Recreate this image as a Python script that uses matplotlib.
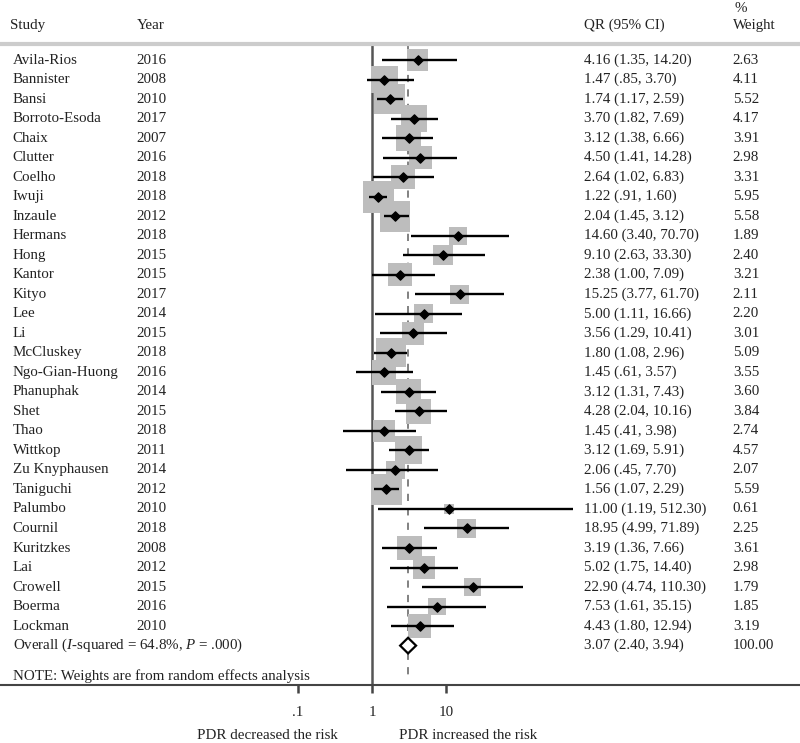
import numpy as np
import matplotlib
matplotlib.use("Agg")
import matplotlib.pyplot as plt
from matplotlib.patches import Polygon

# ==========================
# Data
# ==========================

studies = ["Avila-Rios", "Bannister", "Bansi", "Borroto-Esoda", "Chaix", "Clutter",
           "Coelho", "Iwuji", "Inzaule", "Hermans", "Hong", "Kantor", "Kityo", "Lee",
           "Li", "McCluskey", "Ngo-Gian-Huong", "Phanuphak", "Shet", "Thao", "Wittkop",
           "Zu Knyphausen", "Taniguchi", "Palumbo", "Cournil", "Kuritzkes", "Lai",
           "Crowell", "Boerma", "Lockman"]
years = [2016, 2008, 2010, 2017, 2007, 2016, 2018, 2018, 2012, 2018, 2015, 2015, 2017,
         2014, 2015, 2018, 2016, 2014, 2015, 2018, 2011, 2014, 2012, 2010, 2018, 2008,
         2012, 2015, 2016, 2010]
est = [4.16, 1.47, 1.74, 3.70, 3.12, 4.50, 2.64, 1.22, 2.04, 14.60, 9.10, 2.38, 15.25,
       5.00, 3.56, 1.80, 1.45, 3.12, 4.28, 1.45, 3.12, 2.06, 1.56, 11.00, 18.95, 3.19,
       5.02, 22.90, 7.53, 4.43]
lower = [1.35, 0.85, 1.17, 1.82, 1.38, 1.41, 1.02, 0.91, 1.45, 3.40, 2.63, 1.00, 3.77,
         1.11, 1.29, 1.08, 0.61, 1.31, 2.04, 0.41, 1.69, 0.45, 1.07, 1.19, 4.99, 1.36,
         1.75, 4.74, 1.61, 1.80]
upper = [14.20, 3.70, 2.59, 7.69, 6.66, 14.28, 6.83, 1.60, 3.12, 70.70, 33.30, 7.09,
         61.70, 16.66, 10.41, 2.96, 3.57, 7.43, 10.16, 3.98, 5.91, 7.70, 2.29, 512.30,
         71.89, 7.66, 14.40, 110.30, 35.15, 12.94]
weights = [2.63, 4.11, 5.52, 4.17, 3.91, 2.98, 3.31, 5.95, 5.58, 1.89, 2.40, 3.21, 2.11,
           2.20, 3.01, 5.09, 3.55, 3.60, 3.84, 2.74, 4.57, 2.07, 5.59, 0.61, 2.25, 3.61,
           2.98, 1.79, 1.85, 3.19]

overall_est = 3.07
overall_lo = 2.40
overall_hi = 3.94
overall_label = "Overall ($I$-squared = 64.8%, $P$ = .000)"

tick_vals = [0.1, 1, 10]
tick_labels = [".1", "1", "10"]


def fmt(v):
    s = "%.2f" % v
    if s.startswith("0."):
        s = s[1:]
    return s


# ==========================
# Style
# ==========================

plt.rcParams["font.family"] = ["Liberation Serif", "DejaVu Serif"]
plt.rcParams["mathtext.fontset"] = "custom"
plt.rcParams["mathtext.rm"] = "Liberation Serif"
plt.rcParams["mathtext.it"] = "Liberation Serif:italic"
plt.rcParams["font.size"] = 10.8

txt_color = "#222222"

fig = plt.figure(figsize=(8, 7.43), dpi=100)
ax = fig.add_axes([0, 0, 1, 1])

# pixel layout: x=1 at 372px, 74px per decade; rows start at 60px, 19.52px apart
ax.set_xscale("log")
ax.set_xlim(10 ** (-372 / 74), 10 ** ((800 - 372) / 74))
row_step = 19.52
ax.set_ylim((743 - 60) / row_step, -60 / row_step)

rows = np.arange(len(studies))
n = len(studies)
overall_row = n
axis_row = 32.02

# ==========================
# Forest marks
# ==========================

ax.scatter(est, rows, marker="s", s=np.array(weights) * 88, color="#bdbdbd",
           linewidths=0, zorder=2)
ax.hlines(rows, lower, upper, color="black", lw=1.7, zorder=3)
ax.scatter(est, rows, marker="D", s=22, color="black", zorder=4)

diamond = Polygon([(overall_lo, overall_row), (overall_est, overall_row - 0.4),
                   (overall_hi, overall_row), (overall_est, overall_row + 0.4)],
                  closed=True, facecolor="white", edgecolor="black", lw=1.6, zorder=4)
ax.add_patch(diamond)

ax.vlines(1, -0.82, axis_row, color="#555555", lw=1.8, zorder=1)
ax.vlines(overall_est, -0.7, axis_row - 0.2, color="#777777", lw=1.3,
          linestyles=(0, (4, 4)), zorder=1)
ax.axhline(-0.82, color="#cccccc", lw=3, zorder=1)

# ==========================
# Axis
# ==========================

for side in ["left", "right", "top"]:
    ax.spines[side].set_visible(False)
ax.spines["bottom"].set_position(("data", axis_row))
ax.spines["bottom"].set_color("#444444")
ax.spines["bottom"].set_linewidth(1.5)
ax.set_xticks(tick_vals)
ax.set_xticklabels(tick_labels)
ax.xaxis.set_minor_locator(matplotlib.ticker.NullLocator())
ax.tick_params(axis="x", direction="out", length=6, width=1.8, pad=9,
               colors="#444444", labelcolor=txt_color, labelsize=10.8)
ax.set_yticks([])

# ==========================
# Text columns
# ==========================

tr = ax.get_yaxis_transform()
hdr_row = -1.79

ax.text(0.0125, hdr_row, "Study", transform=tr, va="center", color=txt_color)
ax.text(0.171, hdr_row, "Year", transform=tr, va="center", color=txt_color)
ax.text(0.73, hdr_row, "QR (95% CI)", transform=tr, va="center", color=txt_color)
ax.text(0.918, -2.66, "%", transform=tr, va="center", color=txt_color)
ax.text(0.916, hdr_row, "Weight", transform=tr, va="center", color=txt_color)

for i in range(n):
    ax.text(0.016, rows[i], studies[i], transform=tr, va="center", color=txt_color)
    ax.text(0.171, rows[i], str(years[i]), transform=tr, va="center", color=txt_color)
    ci = "%s (%s, %s)" % (fmt(est[i]), fmt(lower[i]), fmt(upper[i]))
    ax.text(0.73, rows[i], ci, transform=tr, va="center", color=txt_color)
    ax.text(0.916, rows[i], "%.2f" % weights[i], transform=tr, va="center",
            color=txt_color)

ax.text(0.016, overall_row, overall_label, transform=tr, va="center", color=txt_color)
ax.text(0.73, overall_row, "%s (%s, %s)" % (fmt(overall_est), fmt(overall_lo),
        fmt(overall_hi)), transform=tr, va="center", color=txt_color)
ax.text(0.916, overall_row, "100.00", transform=tr, va="center", color=txt_color)

ax.text(0.016, 31.56, "NOTE: Weights are from random effects analysis", transform=tr,
        va="center", color=txt_color)

ax.text(0.334, 34.58, "PDR decreased the risk", transform=tr, va="center",
        ha="center", color=txt_color)
ax.text(0.585, 34.58, "PDR increased the risk", transform=tr, va="center",
        ha="center", color=txt_color)

plt.savefig("out.png", dpi=100)
